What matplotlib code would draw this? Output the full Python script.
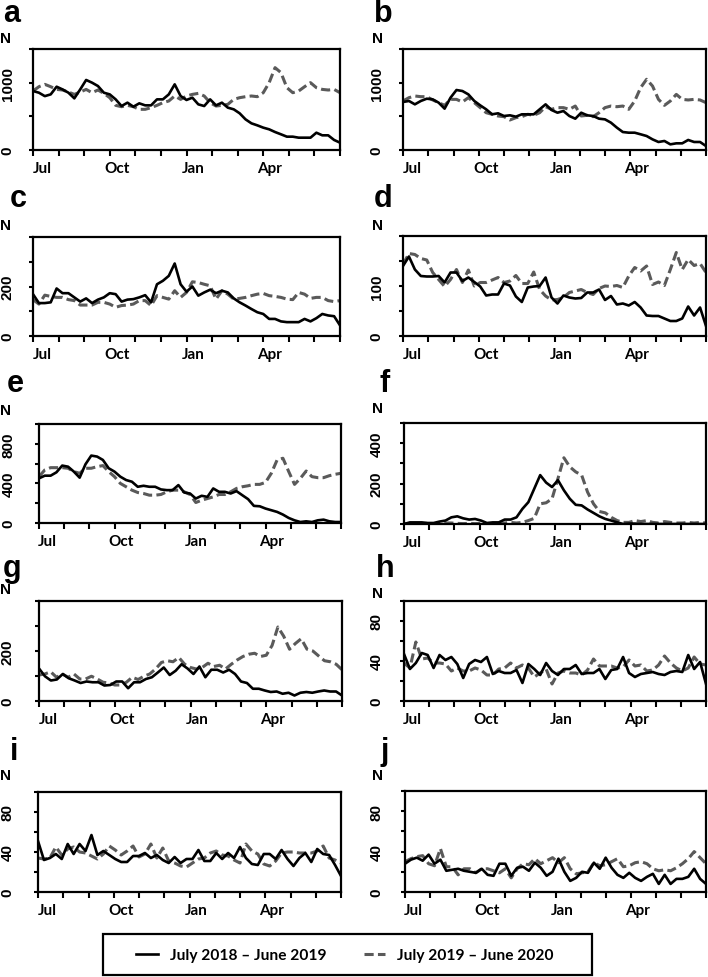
import numpy as np
import matplotlib
matplotlib.use('Agg')
import matplotlib.pyplot as plt
from matplotlib.lines import Line2D
from matplotlib.patches import Rectangle

# ---------------- data (weekly counts, July -> June) ----------------
months = ['Jul', 'Oct', 'Jan', 'Apr']
series_labels = ['July 2018 \u2013 June 2019', 'July 2019 \u2013 June 2020']

a_2018 = [876, 851, 800, 826, 940, 900, 851, 767, 900, 1040, 1000, 950, 851, 826, 752, 653, 703, 643, 693, 663,
          663, 752, 752, 826, 975, 802, 743, 777, 678, 653, 752, 663, 703, 629, 604, 545, 455, 396, 366, 332,
          307, 267, 233, 198, 198, 183, 183, 183, 257, 218, 218, 149, 109]
a_2019 = [876, 940, 975, 940, 900, 891, 861, 826, 861, 900, 851, 891, 841, 777, 663, 643, 663, 643, 604, 604,
          629, 663, 703, 728, 802, 752, 802, 826, 841, 802, 703, 653, 663, 678, 752, 777, 792, 802, 792, 851,
          1000, 1223, 1149, 926, 851, 876, 940, 1000, 926, 900, 891, 900, 851]
b_2018 = [713, 728, 678, 728, 762, 752, 703, 614, 777, 891, 876, 826, 728, 663, 604, 530, 545, 505, 515, 495,
          530, 530, 530, 604, 678, 594, 554, 579, 505, 465, 554, 515, 505, 465, 455, 406, 332, 267, 257, 257,
          233, 208, 158, 119, 134, 84, 99, 99, 149, 119, 119, 59]
b_2019 = [728, 777, 802, 792, 792, 743, 703, 663, 752, 752, 713, 777, 703, 629, 554, 530, 505, 495, 446, 480,
          495, 530, 515, 554, 643, 604, 629, 629, 604, 653, 505, 515, 495, 554, 629, 653, 643, 653, 604, 728,
          926, 1050, 950, 752, 663, 728, 826, 752, 743, 752, 743, 703]
c_2018 = [169, 133, 133, 136, 192, 173, 173, 156, 139, 152, 133, 147, 156, 173, 169, 139, 147, 149, 156, 165,
          136, 209, 223, 243, 293, 209, 179, 200, 163, 176, 187, 173, 183, 176, 152, 136, 123, 109, 96, 89,
          69, 69, 59, 56, 56, 56, 69, 59, 72, 89, 83, 80, 43]
c_2019 = [147, 129, 165, 160, 156, 156, 147, 143, 125, 125, 125, 136, 136, 129, 116, 123, 125, 129, 143, 143,
          123, 163, 156, 149, 183, 156, 176, 219, 216, 209, 203, 149, 183, 169, 149, 152, 156, 163, 169, 172,
          163, 160, 156, 149, 147, 176, 169, 152, 156, 156, 143, 139, 143]
d_2018 = [140, 159, 133, 120, 119, 119, 120, 107, 127, 127, 110, 117, 108, 99, 81, 83, 83, 105, 101, 79,
          68, 97, 99, 100, 117, 77, 65, 81, 77, 75, 76, 87, 87, 93, 72, 80, 63, 65, 61, 68,
          57, 41, 40, 40, 35, 30, 30, 35, 59, 41, 57, 20]
d_2019 = [143, 165, 163, 155, 152, 127, 113, 99, 113, 133, 107, 132, 100, 107, 107, 112, 117, 107, 110, 121,
          105, 105, 128, 93, 80, 72, 73, 77, 87, 90, 93, 87, 83, 95, 100, 99, 101, 97, 120, 137,
          130, 140, 103, 108, 101, 133, 167, 133, 153, 141, 145, 127]
e_2018 = [451, 478, 478, 512, 580, 569, 519, 458, 593, 681, 671, 637, 553, 519, 468, 434, 417, 366, 376, 366,
          366, 339, 332, 332, 383, 308, 298, 247, 275, 264, 349, 315, 315, 298, 322, 281, 241, 173, 169, 146,
          129, 112, 85, 51, 27, 10, 17, 10, 27, 34, 17, 10, 10]
e_2019 = [468, 536, 559, 559, 559, 553, 519, 502, 553, 553, 569, 580, 519, 468, 400, 366, 332, 308, 298, 281,
          281, 288, 315, 332, 332, 315, 288, 207, 230, 247, 264, 288, 288, 315, 349, 366, 376, 390, 390, 410,
          502, 637, 654, 519, 390, 451, 525, 468, 458, 458, 478, 492, 502]
f_2018 = [0, 8, 8, 8, 5, 5, 12, 17, 33, 38, 28, 22, 25, 17, 5, 8, 8, 22, 22, 33,
          75, 108, 175, 242, 205, 183, 217, 167, 125, 95, 92, 72, 55, 38, 25, 17, 8, 0, 2, 2,
          0, 0, 0, 0, 0, 0, 0, 0, 0, 0, 0, 0]
f_2019 = [0, 2, 3, 2, 3, 2, 3, 5, 5, 3, 2, 3, 2, 3, 2, 3, 3, 5, 8, 5,
          8, 17, 28, 100, 105, 125, 225, 328, 283, 258, 242, 158, 100, 62, 55, 33, 17, 8, 8, 17,
          12, 17, 8, 5, 12, 8, 5, 5, 8, 5, 8, 5]
g_2018 = [130, 99, 82, 86, 108, 91, 82, 72, 78, 75, 75, 62, 64, 78, 78, 51, 75, 75, 88, 95,
          114, 134, 104, 121, 147, 130, 108, 138, 95, 125, 125, 114, 125, 108, 78, 72, 49, 49, 42, 36,
          38, 29, 33, 22, 33, 36, 33, 38, 42, 38, 38, 22]
g_2019 = [104, 108, 117, 95, 108, 95, 108, 88, 88, 99, 88, 75, 72, 64, 64, 75, 95, 86, 99, 108,
          128, 154, 161, 157, 174, 147, 134, 128, 134, 151, 138, 143, 128, 147, 164, 178, 187, 191, 178, 183,
          222, 296, 259, 207, 230, 249, 207, 200, 180, 161, 157, 147, 125]
h_2018 = [47, 32, 38, 48, 46, 33, 46, 41, 44, 37, 23, 37, 41, 39, 44, 27, 30, 28, 28, 31,
          18, 37, 32, 26, 38, 30, 26, 32, 32, 36, 27, 28, 28, 32, 22, 31, 32, 44, 28, 24,
          27, 28, 29, 27, 26, 29, 30, 29, 46, 32, 39, 17]
h_2019 = [38, 33, 59, 42, 43, 38, 38, 37, 30, 33, 30, 30, 33, 31, 26, 26, 32, 33, 38, 33,
          36, 33, 24, 28, 32, 17, 28, 30, 28, 28, 26, 31, 42, 35, 35, 35, 33, 34, 41, 35,
          36, 30, 31, 36, 45, 38, 33, 30, 33, 44, 37, 36]
i_2018 = [51, 32, 34, 38, 33, 48, 38, 48, 41, 57, 37, 41, 37, 33, 30, 30, 36, 36, 39, 34,
          37, 32, 29, 35, 29, 33, 33, 42, 31, 31, 39, 33, 39, 34, 45, 34, 28, 27, 38, 38,
          33, 42, 33, 26, 34, 39, 30, 43, 38, 37, 27, 16]
i_2019 = [34, 33, 34, 45, 37, 43, 45, 40, 39, 36, 33, 38, 46, 42, 37, 41, 46, 35, 38, 48,
          34, 44, 31, 29, 26, 25, 29, 33, 34, 39, 41, 37, 36, 32, 29, 48, 41, 38, 28, 26,
          31, 39, 40, 40, 39, 39, 39, 41, 46, 34, 32, 29]
j_2018 = [28, 32, 34, 31, 37, 28, 32, 21, 22, 23, 21, 20, 19, 23, 17, 16, 28, 28, 16, 24,
          25, 21, 29, 24, 16, 20, 33, 20, 11, 14, 20, 19, 29, 23, 34, 24, 17, 14, 19, 14,
          11, 15, 18, 8, 17, 8, 13, 13, 15, 23, 13, 8]
j_2019 = [30, 33, 35, 36, 28, 26, 43, 25, 25, 17, 23, 23, 19, 23, 23, 21, 19, 23, 14, 23,
          28, 27, 33, 28, 31, 34, 29, 34, 23, 18, 19, 20, 29, 26, 27, 30, 33, 25, 26, 29,
          30, 28, 23, 21, 22, 21, 24, 28, 33, 40, 34, 28]

# y-axis settings: (max, step, labelled values)
y_a = (1500, 500, [0, 1000])
y_c = (400, 100, [0, 200])
y_d = (200, 50, [0, 100])
y_e = (1000, 200, [0, 400, 800])
y_f = (500, 100, [0, 200, 400])
y_g = (400, 100, [0, 200])
y_h = (100, 20, [0, 40, 80])

# ---------------- layout (pixel boxes: left, top, right, bottom) ----------------
W, H = 708, 978
fig = plt.figure(figsize=(W / 100, H / 100), dpi=100)

GRAY = '#5a5a5a'
BOLD = 'Liberation Sans'
LABF = 'Lato'

panels = [
    ('a', a_2018, a_2019, (33, 50, 340, 151), y_a, (3, 22), (0, 43), 16),
    ('b', b_2018, b_2019, (403, 50, 706, 151), y_a, (374, 22), (372, 43), 385),
    ('c', c_2018, c_2019, (33, 238, 340, 337), y_c, (10, 207), (0, 230), 16),
    ('d', d_2018, d_2019, (403, 237, 706, 337), y_d, (374, 207), (372, 230), 385),
    ('e', e_2018, e_2019, (39, 425, 341, 524), y_e, (7, 392), (0, 415), 17),
    ('f', f_2018, f_2019, (404, 424, 706, 525), y_f, (379, 392), (372, 413), 385),
    ('g', g_2018, g_2019, (39, 602, 342, 702), y_g, (3, 577), (0, 594), 16),
    ('h', h_2018, h_2019, (404, 602, 706, 702), y_h, (376, 577), (372, 598), 385),
    ('i', i_2018, i_2019, (38, 793, 341, 893), y_h, (10, 760), (0, 780), 16),
    ('j', j_2018, j_2019, (405, 792, 706, 893), y_h, (381, 760), (372, 780), 385),
]

month_pos = [0.35, 3.27, 6.25, 9.25]
TICKLEN = 3

for letter, s1, s2, (l, t, r, b), (ymax, ystep, ylab), lpos, npos, labright in panels:
    ax = fig.add_axes([l / W, 1 - b / H, (r - l) / W, (b - t) / H])
    x1 = np.linspace(0, 12, len(s1))
    x2 = np.linspace(0, 12, len(s2))
    ax.plot(x2, s2, color=GRAY, lw=2.2, ls=(0, (3, 1.4)))
    ax.plot(x1, s1, color='black', lw=1.9)
    ax.set_xlim(0, 12)
    ax.set_ylim(0, ymax)

    # x axis: monthly ticks, quarterly labels
    ax.set_xticks(range(13))
    ax.set_xticklabels([])
    ax.set_xticks(month_pos, minor=True)
    ax.set_xticklabels(months, minor=True, fontfamily=LABF, fontweight='bold', fontsize=11)
    ax.tick_params(axis='x', which='major', direction='out', length=4, width=1.5)
    ax.tick_params(axis='x', which='minor', length=0, pad=8)

    # y axis
    yt = np.arange(0, ymax + ystep, ystep)
    ax.set_yticks(yt)
    ax.set_yticklabels([str(int(v)) if v in ylab else '' for v in yt])
    pad_pt = (l - labright - TICKLEN) * 0.72
    ax.tick_params(axis='y', direction='out', length=TICKLEN, width=1.5, pad=pad_pt, labelrotation=90)
    for lab in ax.get_yticklabels():
        lab.set_fontfamily(BOLD)
        lab.set_fontweight('bold')
        lab.set_fontsize(11)
        lab.set_va('center')

    for sp in ax.spines.values():
        sp.set_linewidth(1.6)
        sp.set_color('black')

    fig.text(lpos[0] / W, 1 - lpos[1] / H, letter, fontsize=22, fontweight='bold',
             family=BOLD, ha='left', va='baseline')
    fig.text(npos[0] / W, 1 - npos[1] / H, 'N', fontsize=11, fontweight='bold',
             family=BOLD, ha='left', va='baseline')

# legend frame (pixel box 103..592 x 935..976)
fig.patches.append(Rectangle((103 / W, 1 - 976 / H), (592 - 103) / W, (976 - 935) / H,
                             transform=fig.transFigure, fill=False, edgecolor='black', lw=1.6))
handles = [Line2D([], [], color='black', lw=1.9),
           Line2D([], [], color=GRAY, lw=2.2, ls=(0, (3, 1.4)))]
leg = fig.legend(handles=handles, labels=series_labels, ncol=2, loc='center',
                 bbox_to_anchor=(345 / W, 1 - 956 / H),
                 frameon=False, borderpad=0.2, handlelength=1.4, handletextpad=0.77,
                 columnspacing=2.4,
                 prop={'family': LABF, 'weight': 'bold', 'size': 11.2})

fig.savefig('out.png', dpi=100)
